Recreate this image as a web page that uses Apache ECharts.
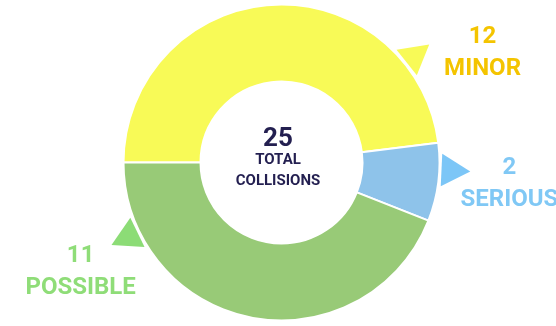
<!DOCTYPE html>
<html>
<head>
<meta charset="utf-8">
<title>Collisions by severity</title>
<script src="https://cdn.jsdelivr.net/npm/echarts@6/dist/echarts.min.js"></script>
<style>
  html, body { margin: 0; padding: 0; background: #ffffff; }
  #chart { width: 556px; height: 326px; }
</style>
</head>
<body>
<div id="chart"></div>
<script>
// Collision counts by severity
const categories = ['MINOR', 'SERIOUS', 'POSSIBLE'];
const values = [12, 2, 11];

// Slice fills and the matching callout / label colours
const sliceColors = ['#f8fa57', '#8ec3ea', '#98ca77'];
const pointerColors = ['#f8fa57', '#7cc6f7', '#8cdc76'];
const labelColors = ['#f4c400', '#80c8f5', '#8fdd78'];

// Callout placement around the ring, in degrees (0 = 3 o'clock, counter-clockwise)
const pointerAngles = [38.6, -2.7, 205.9];
const labelAngles = [28.6, -5.4, 208.7];

const CENTER = [281.5, 162.5];
const RING = [81, 158];
const FONT = 'Roboto, "Noto Sans", sans-serif';

const total = values.reduce((s, v) => s + v, 0);

const chart = echarts.init(document.getElementById('chart'), null, { renderer: 'canvas' });

chart.setOption({
  animation: false,
  backgroundColor: '#ffffff',
  polar: { center: CENTER, radius: 240 },
  radiusAxis: { type: 'value', min: 0, max: 240, show: false },
  angleAxis: { type: 'value', min: 0, max: 360, startAngle: 0, clockwise: false, show: false },
  graphic: [{
    type: 'text',
    x: 278,
    y: 160,
    style: {
      text: '{big|' + total + '}\n{small|TOTAL}\n{small|COLLISIONS}',
      align: 'center',
      verticalAlign: 'middle',
      rich: {
        big: { fontSize: 26, fontWeight: 'bold', fontFamily: FONT, fill: '#231f50', lineHeight: 21, align: 'center' },
        small: { fontSize: 15, fontWeight: 'bold', fontFamily: FONT, fill: '#231f50', lineHeight: 21, align: 'center' }
      }
    }
  }],
  series: [
    {
      type: 'pie',
      center: CENTER,
      radius: RING,
      startAngle: 180,
      clockwise: true,
      silent: true,
      label: { show: false },
      labelLine: { show: false },
      itemStyle: { borderColor: '#ffffff', borderWidth: 2 },
      data: categories.map((name, i) => ({
        name: name,
        value: values[i],
        itemStyle: { color: sliceColors[i] }
      }))
    },
    {
      type: 'custom',
      coordinateSystem: 'polar',
      silent: true,
      data: categories.map((name, i) => [229, pointerAngles[i]]),
      renderItem: function (params, api) {
        const i = params.dataIndex;
        const a = pointerAngles[i];
        const p1 = api.coord([161, a + 5.8]);
        const p2 = api.coord([189, a]);
        const p3 = api.coord([161, a - 5.8]);
        const t = api.coord([api.value(0), labelAngles[i]]);
        return {
          type: 'group',
          children: [
            {
              type: 'polygon',
              shape: { points: [p1, p2, p3] },
              style: { fill: pointerColors[i] }
            },
            {
              type: 'text',
              x: t[0],
              y: t[1],
              style: {
                text: values[i] + '\n' + categories[i],
                fill: labelColors[i],
                fontSize: 24,
                fontWeight: 'bold',
                fontFamily: FONT,
                lineHeight: 32,
                align: 'center',
                verticalAlign: 'middle'
              }
            }
          ]
        };
      }
    }
  ]
});
</script>
</body>
</html>
